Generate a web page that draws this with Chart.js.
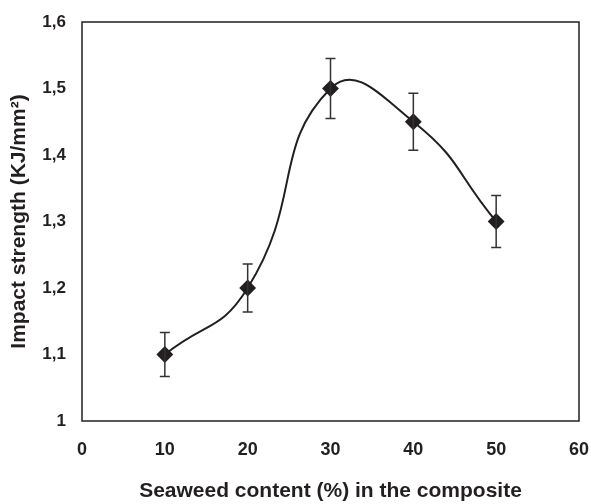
<!DOCTYPE html>
<html>
<head>
<meta charset="utf-8">
<script src="https://cdn.jsdelivr.net/npm/chart.js@4"></script>
<style>
  html, body { margin: 0; padding: 0; background: #fff; }
  #wrap { width: 591px; height: 504px; }
</style>
</head>
<body>
<div id="wrap"><canvas id="impactChart" width="591" height="504"></canvas></div>
<script>
const seaweedContent = [10, 20, 30, 40, 50];
const impactStrength = [1.1, 1.2, 1.5, 1.45, 1.3];
const errorMargin = [0.033, 0.036, 0.045, 0.043, 0.039];
const yTickValues = [1, 1.1, 1.2, 1.3, 1.4, 1.5, 1.6];

const font = "'Liberation Sans', Arial, sans-serif";
const ink = "#231f20";

// error bars drawn from the data through the scales
const errorBars = {
    id: "errorBars",
    afterDatasetsDraw(chart) {
        const { ctx, scales: { x, y } } = chart;
        ctx.save();
        ctx.strokeStyle = "#333";
        ctx.lineWidth = 1.5;
        seaweedContent.forEach((v, i) => {
            const px = x.getPixelForValue(v);
            const top = y.getPixelForValue(impactStrength[i] + errorMargin[i]);
            const bot = y.getPixelForValue(impactStrength[i] - errorMargin[i]);
            ctx.beginPath();
            ctx.moveTo(px, top); ctx.lineTo(px, bot);
            ctx.moveTo(px - 5, top); ctx.lineTo(px + 5, top);
            ctx.moveTo(px - 5, bot); ctx.lineTo(px + 5, bot);
            ctx.stroke();
        });
        ctx.restore();
    }
};

// box around the plot area
const frame = {
    id: "frame",
    afterDraw(chart) {
        const { ctx, chartArea: a } = chart;
        ctx.save();
        ctx.strokeStyle = ink;
        ctx.lineWidth = 1.5;
        ctx.strokeRect(a.left, a.top, a.right - a.left, a.bottom - a.top);
        ctx.restore();
    }
};

new Chart(document.getElementById("impactChart").getContext("2d"), {
    type: "line",
    data: {
        datasets: [{
            data: seaweedContent.map((v, i) => ({ x: v, y: impactStrength[i] })),
            borderColor: ink,
            borderWidth: 2,
            backgroundColor: ink,
            pointStyle: "rectRot",
            pointRadius: 7,
            pointHoverRadius: 7,
            tension: 0.5,
            fill: false
        }]
    },
    options: {
        responsive: false,
        animation: false,
        layout: { padding: { top: 22, right: 12, left: 0, bottom: 0 } },
        plugins: {
            legend: { display: false },
            tooltip: { enabled: false }
        },
        scales: {
            x: {
                type: "linear",
                min: 0,
                max: 60,
                ticks: {
                    stepSize: 10,
                    padding: 18,
                    color: ink,
                    font: { family: font, size: 18, weight: "bold" }
                },
                grid: { display: false, drawTicks: false },
                border: { display: false },
                title: {
                    display: true,
                    text: "Seaweed content (%) in the composite",
                    color: ink,
                    padding: { top: 0, bottom: 0 },
                    font: { family: font, size: 21, weight: "bold" }
                },
                afterFit: s => { s.height = 83; s.paddingLeft = 0; s.paddingRight = 0; }
            },
            y: {
                min: 1,
                max: 1.6,
                afterBuildTicks: s => { s.ticks = yTickValues.map(v => ({ value: v })); },
                ticks: {
                    padding: 16,
                    color: ink,
                    font: { family: font, size: 17, weight: "bold" },
                    callback: v => (v === 1 ? "1" : v.toFixed(1).replace(".", ","))
                },
                grid: { display: false, drawTicks: false },
                border: { display: false },
                title: {
                    display: true,
                    text: "Impact strength (KJ/mm²)",
                    color: ink,
                    padding: { top: 7, bottom: 0 },
                    font: { family: font, size: 21, weight: "bold" }
                },
                afterFit: s => { s.width = 82; s.paddingTop = 0; s.paddingBottom = 0; }
            }
        }
    },
    plugins: [errorBars, frame]
});
</script>
</body>
</html>
